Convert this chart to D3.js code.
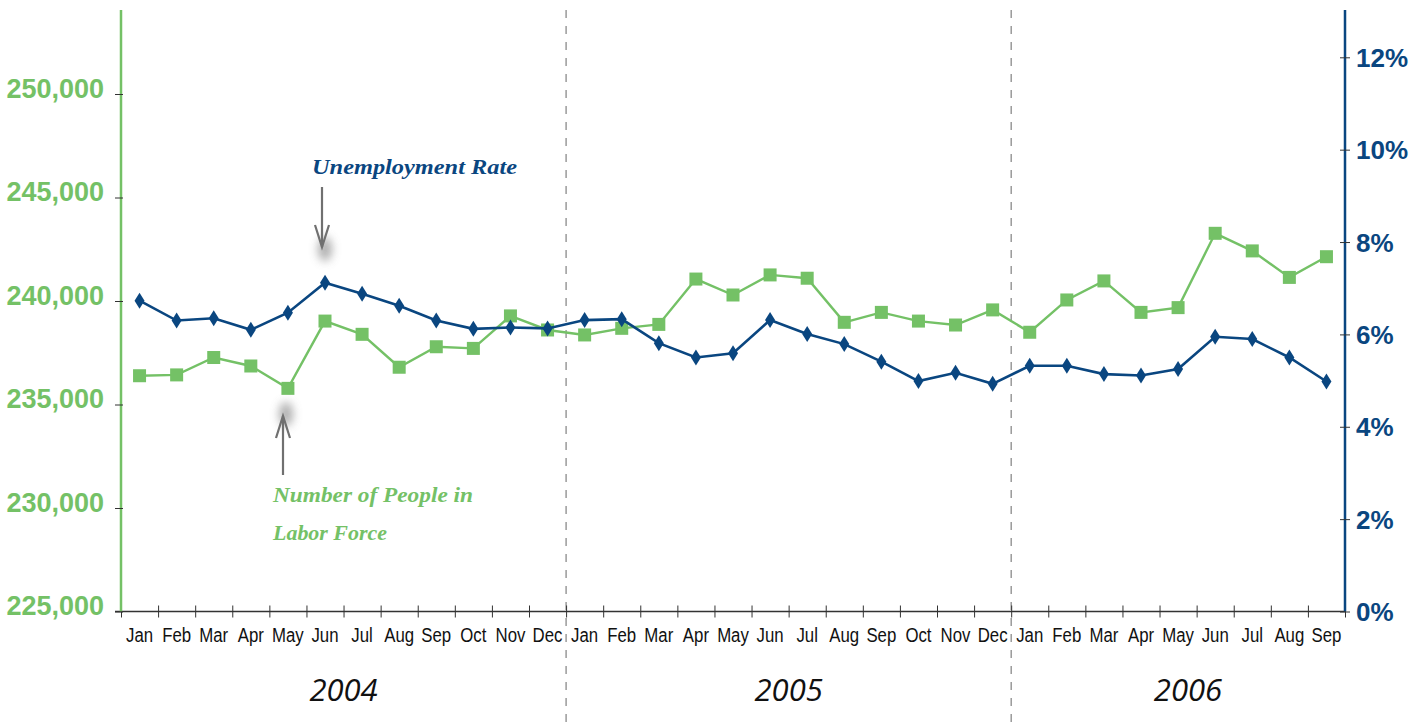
<!DOCTYPE html>
<html>
<head>
<meta charset="utf-8">
<script src="https://cdn.jsdelivr.net/npm/d3@7"></script>
<style>
  body { margin: 0; background: #fff; }
  svg { display: block; }
</style>
</head>
<body>
<div id="chart"></div>
<script>
// chart data
const years = ['2004', '2005', '2006'];
const months = ['Jan', 'Feb', 'Mar', 'Apr', 'May', 'Jun', 'Jul', 'Aug', 'Sep', 'Oct', 'Nov', 'Dec'];
const monthsPerYear = [12, 12, 9];

// number of people in labor force (left axis)
const laborForce = [
  236390, 236430, 237270, 236860, 235780, 239030, 238390, 236800, 237790, 237710, 239280, 238600,
  238360, 238680, 238870, 241060, 240290, 241260, 241100, 238970, 239450, 239030, 238840, 239570,
  238490, 240050, 240970, 239450, 239680, 243270, 242420, 241140, 242140
];
// unemployment rate in % (right axis)
const unemploymentRate = [
  6.73, 6.30, 6.35, 6.10, 6.47, 7.12, 6.88, 6.62, 6.30, 6.12, 6.15, 6.13,
  6.31, 6.33, 5.81, 5.50, 5.59, 6.31, 6.01, 5.79, 5.41, 4.99, 5.17, 4.93,
  5.32, 5.32, 5.14, 5.11, 5.25, 5.95, 5.90, 5.50, 4.98
];
const leftTicks = [225000, 230000, 235000, 240000, 245000, 250000];
const rightTicks = [0, 2, 4, 6, 8, 10, 12];

const width = 1427, height = 725;
const margin = { top: 10, left: 121, right: 82, axisY: 611.5 };
const green = '#74c166', blue = '#0a4680';

// build the month categories
const periods = [];
years.forEach((y, yi) => {
  for (let m = 0; m < monthsPerYear[yi]; m++) periods.push({ key: y + '-' + months[m], month: months[m], year: y });
});

const svg = d3.select('#chart').append('svg')
  .attr('width', width).attr('height', height);

const defs = svg.append('defs');
const blur = defs.append('filter').attr('id', 'shadow')
  .attr('x', '-200%').attr('y', '-50%').attr('width', '500%').attr('height', '200%');
blur.append('feGaussianBlur').attr('stdDeviation', 5);

const xBand = d3.scaleBand()
  .domain(periods.map(d => d.key))
  .range([margin.left, width - margin.right])
  .padding(0);
const xIdx = d3.scaleLinear().domain([0, periods.length]).range([margin.left, width - margin.right]);
const yLeft = d3.scaleLinear().domain([225000, 250000]).range([margin.axisY, 94]);
const yRight = d3.scaleLinear().domain([0, 12]).range([margin.axisY, 57.3]);
const cx = i => xBand(periods[i].key) + xBand.bandwidth() / 2;

// year separators
const sepIdx = [12, 24];
svg.selectAll('.sep').data(sepIdx).enter().append('line')
  .attr('x1', d => xIdx(d)).attr('x2', d => xIdx(d))
  .attr('y1', 10).attr('y2', height)
  .attr('stroke', '#8a8a8a').attr('stroke-width', 1.3)
  .attr('stroke-dasharray', '8,8');

// x axis: tick marks on month boundaries
const xTicks = svg.append('g')
  .attr('transform', 'translate(0,' + margin.axisY + ')')
  .call(d3.axisBottom(xIdx).tickValues(d3.range(0, periods.length + 1)).tickSize(6).tickFormat(''));
xTicks.select('.domain').attr('stroke', '#333').attr('stroke-width', 1.3)
  .attr('d', 'M' + (margin.left - 6) + ',0H' + (width - margin.right));
xTicks.selectAll('.tick line').attr('y1', -6).attr('y2', 6).attr('stroke', '#333');

// x axis: month labels at band centres
const xLabels = svg.append('g')
  .attr('transform', 'translate(0,' + margin.axisY + ')')
  .call(d3.axisBottom(xBand).tickSize(0).tickPadding(0).tickFormat(k => k.split('-')[1]));
xLabels.select('.domain').remove();
xLabels.selectAll('.tick text')
  .attr('y', 30.5)
  .attr('dy', 0)
  .attr('fill', '#111')
  .style('font-family', 'Liberation Sans, Arial, sans-serif')
  .style('font-size', '21px')
  .attr('transform', 'scale(0.8,1)')
  .attr('x', 0);

// year labels
const yearCentres = [[0, 12], [12, 24], [24, 33]];
svg.selectAll('.year').data(years).enter().append('text')
  .attr('x', (d, i) => i < 2 ? (xIdx(yearCentres[i][0]) + xIdx(yearCentres[i][1])) / 2 : 1188)
  .attr('y', 701)
  .attr('text-anchor', 'middle')
  .style('font-family', '"Open Sans", sans-serif')
  .style('font-style', 'italic')
  .style('font-size', '31px')
  .attr('fill', '#111')
  .text(d => d);

// left axis
const leftAxis = svg.append('g')
  .attr('transform', 'translate(' + margin.left + ',0)')
  .call(d3.axisLeft(yLeft).tickValues(leftTicks).tickSize(0).tickPadding(17).tickFormat(d3.format(',')));
leftAxis.select('.domain').attr('stroke', green).attr('stroke-width', 2.5)
  .attr('d', 'M0,10V' + margin.axisY);
leftAxis.selectAll('.tick line').attr('x1', -6).attr('x2', 2).attr('stroke', '#333');
leftAxis.selectAll('.tick text')
  .attr('fill', green)
  .attr('dy', '0.12em')
  .style('font-family', 'Liberation Sans, Arial, sans-serif')
  .style('font-weight', 'bold')
  .style('font-size', '27px');

// right axis
const rightAxis = svg.append('g')
  .attr('transform', 'translate(' + (width - margin.right) + ',0)')
  .call(d3.axisRight(yRight).tickValues(rightTicks).tickSize(0).tickPadding(11).tickFormat(d => d + '%'));
rightAxis.select('.domain').attr('stroke', blue).attr('stroke-width', 2.5)
  .attr('d', 'M0,10V' + margin.axisY);
rightAxis.selectAll('.tick line').attr('x1', -5).attr('x2', 5).attr('stroke', '#333');
rightAxis.selectAll('.tick text')
  .attr('fill', blue)
  .attr('dy', '0.35em')
  .style('font-family', 'Liberation Sans, Arial, sans-serif')
  .style('font-weight', 'bold')
  .style('font-size', '26px');

// labor force line + square markers
const greenLine = d3.line().x((d, i) => cx(i)).y(d => yLeft(d));
svg.append('path').datum(laborForce)
  .attr('d', greenLine)
  .attr('fill', 'none').attr('stroke', green).attr('stroke-width', 2.4);
svg.selectAll('.sq').data(laborForce).enter().append('rect')
  .attr('x', (d, i) => cx(i) - 6.5).attr('y', d => yLeft(d) - 6.5)
  .attr('width', 13).attr('height', 13)
  .attr('fill', green);

// unemployment line + diamond markers
const blueLine = d3.line().x((d, i) => cx(i)).y(d => yRight(d));
svg.append('path').datum(unemploymentRate)
  .attr('d', blueLine)
  .attr('fill', 'none').attr('stroke', blue).attr('stroke-width', 2.6);
svg.selectAll('.dm').data(unemploymentRate).enter().append('path')
  .attr('d', 'M0,-8L5,0L0,8L-5,0Z')
  .attr('transform', (d, i) => 'translate(' + cx(i) + ',' + yRight(d) + ')')
  .attr('fill', blue);

// annotations
function arrow(x, yFrom, yTo) {
  const dir = yTo > yFrom ? 1 : -1;
  svg.append('ellipse')
    .attr('cx', x + 3).attr('cy', yTo + dir * 2).attr('rx', 7).attr('ry', 12)
    .attr('fill', '#999').attr('opacity', 0.8).attr('filter', 'url(#shadow)');
  svg.append('line')
    .attr('x1', x).attr('x2', x).attr('y1', yFrom).attr('y2', yTo)
    .attr('stroke', '#707070').attr('stroke-width', 2.2);
  svg.append('path')
    .attr('d', 'M' + (x - 7) + ',' + (yTo - dir * 22) + 'L' + x + ',' + yTo + 'L' + (x + 7) + ',' + (yTo - dir * 22))
    .attr('fill', 'none').attr('stroke', '#707070').attr('stroke-width', 2.2);
}
arrow(322, 187, 247);
arrow(283, 475, 416);

const noteFont = '"Liberation Serif", "DejaVu Serif", serif';
svg.append('text')
  .attr('x', 312).attr('y', 174)
  .attr('textLength', 205).attr('lengthAdjust', 'spacingAndGlyphs')
  .style('font-family', noteFont).style('font-style', 'italic').style('font-weight', 'bold')
  .style('font-size', '22px')
  .attr('fill', blue)
  .text('Unemployment Rate');
svg.append('text')
  .attr('x', 273).attr('y', 502)
  .attr('textLength', 200).attr('lengthAdjust', 'spacingAndGlyphs')
  .style('font-family', noteFont).style('font-style', 'italic').style('font-weight', 'bold')
  .style('font-size', '22px')
  .attr('fill', green)
  .text('Number of People in');
svg.append('text')
  .attr('x', 273).attr('y', 540)
  .attr('textLength', 114).attr('lengthAdjust', 'spacingAndGlyphs')
  .style('font-family', noteFont).style('font-style', 'italic').style('font-weight', 'bold')
  .style('font-size', '22px')
  .attr('fill', green)
  .text('Labor Force');
</script>
</body>
</html>
